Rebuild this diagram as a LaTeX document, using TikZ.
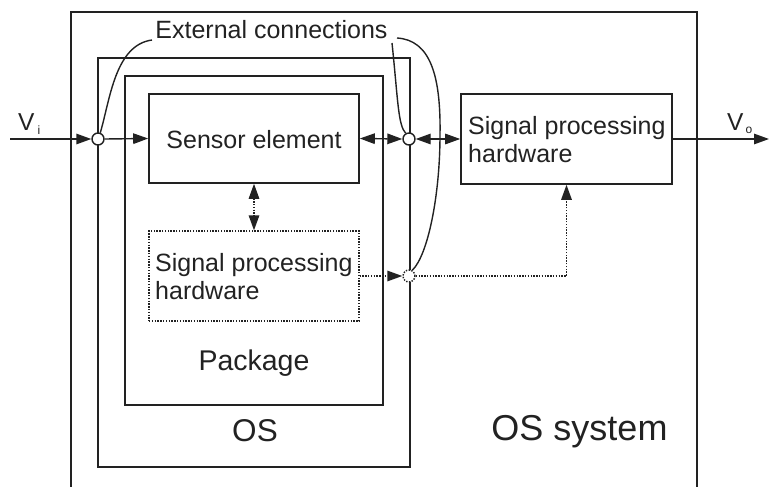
\documentclass[tikz,border=0pt]{standalone}
\usepackage{fontspec}
\setmainfont{Liberation Sans}
\usetikzlibrary{arrows.meta}
\definecolor{ink}{HTML}{222222}
\tikzset{
  frame/.style={draw=ink, line width=1.6pt, inner sep=0pt},
  dotframe/.style={draw=ink, line width=1.3pt, dash pattern=on 1.4pt off 1.4pt, inner sep=0pt},
  conn/.style={draw=ink, line width=1.4pt},
  dotline/.style={line width=1.4pt, dash pattern=on 1.4pt off 1.4pt},
  tip/.tip={Triangle[length=15pt,width=10.5pt]},
  arr/.style={conn, -tip},
  darr/.style={conn, tip-tip},
  port/.style={circle, draw=ink, fill=white, line width=1.4pt, minimum size=12pt, inner sep=0pt},
  lbl/.style={text=ink, inner sep=0pt, anchor=base, font=\fontsize{25}{25}\selectfont},
  lblw/.style={lbl, anchor=base west},
}
\begin{document}
\begin{tikzpicture}[x=1pt,y=-1pt]
\useasboundingbox (0,0) rectangle (769,487);

% enclosing system frame (open at the bottom)
\draw[ink, line width=1.6pt] (71,487) -- (71,12) -- (697,12) -- (697,487);

% OS and package frames
\node[frame, minimum width=312pt, minimum height=409pt] (os) at (254,262.5) {};
\node[frame, minimum width=258pt, minimum height=329pt] (pkg) at (254,240.5) {};

% blocks
\node[frame, minimum width=210pt, minimum height=89pt] (sensor) at (254,138.5) {};
\node[frame, minimum width=211pt, minimum height=90pt] (sph) at (566.5,139) {};
\node[dotframe, minimum width=210pt, minimum height=90pt] (dsph) at (254,276) {};

% texts
\node[lbl] (sensortxt) at (254,148) {Sensor element};
\node[lblw] (sph1) at (468,135) {Signal processing};
\node[lblw] (sph2) at (468,162) {hardware};
\node[lblw] (dsph1) at (155,271) {Signal processing};
\node[lblw] (dsph2) at (155,299) {hardware};
\node[lbl, font=\fontsize{28.5}{28.5}\selectfont] (pkgtxt) at (254,370) {Package};
\node[lbl, font=\fontsize{31.5}{31.5}\selectfont] (ostxt) at (255,441) {OS};
\node[lbl, font=\fontsize{36}{36}\selectfont] (systxt) at (579.5,440) {OS system};
\node[lbl] (ext) at (271.5,39) {External connections};

% signal labels
\node[lblw, font=\fontsize{24.5}{24.5}\selectfont] (vi) at (18,130) {V};
\node[lblw, font=\fontsize{12}{12}\selectfont] (visub) at (37.5,135) {i};
\node[lblw, font=\fontsize{24.5}{24.5}\selectfont] (vo) at (727,130) {V};
\node[lblw, font=\fontsize{12}{12}\selectfont] (vosub) at (745.5,133) {o};

% connection points on the OS boundary
\node[port] (c1) at (98,139) {};
\node[port] (c2) at (409,139) {};
\node[port, dash pattern=on 1.4pt off 1.4pt] (c3) at (409,276) {};

% free ends
\coordinate (vin) at (10,139);
\coordinate (vout) at (769,139);
\coordinate (e1) at (152,40);
\coordinate (e2) at (392,43);
\coordinate (e3) at (397,38);

% signal path
\draw[arr] (vin) -- (c1.west);
\draw[arr] (c1.east) -- (sensor.west);
\draw[darr] (sensor.east) -- (c2.west);
\draw[darr] (c2.east) -- (sph.west);
\draw[arr] (sph.east) -- (vout);

% optional on-package processing path
\draw[darr, dotline] (sensor.south) -- (dsph.north);
\draw[arr, dotline] (dsph.east) -- (c3.west);
\draw[arr, dotline] (c3.east) -| (sph.south);

% leader lines from the label to the connection points
\draw[conn] (c1.70) .. controls (110,100) and (115,45) .. (e1);
\draw[conn] (e2) .. controls (398,100) and (398,125) .. (c2.120);
\draw[conn] (e3) .. controls (430,40) and (441,75) .. (440,135)
                 .. controls (440,195) and (428,255) .. (c3.60);
\end{tikzpicture}
\end{document}
